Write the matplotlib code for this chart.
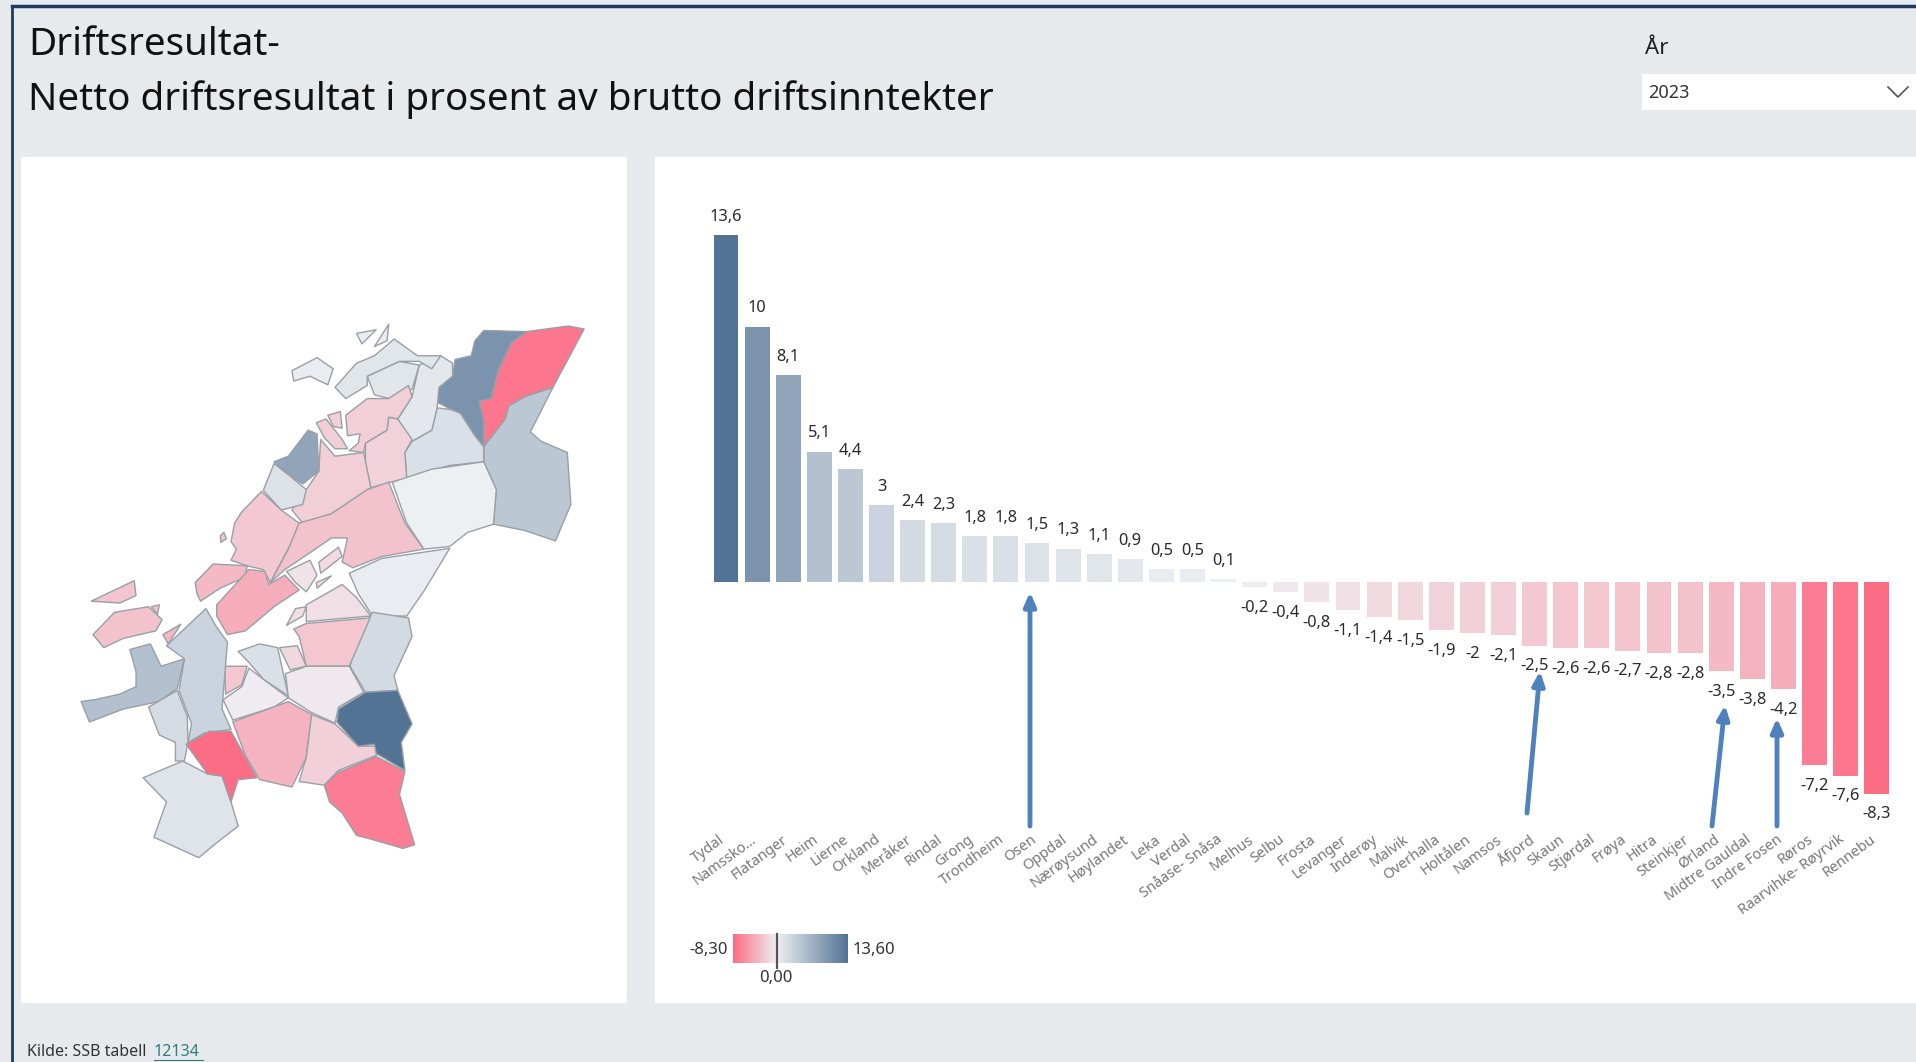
import numpy as np
import matplotlib
matplotlib.use("Agg")
import matplotlib.pyplot as plt
from matplotlib.colors import LinearSegmentedColormap, TwoSlopeNorm
from matplotlib.patches import Polygon, Rectangle
from matplotlib.transforms import ScaledTranslation

plt.rcParams['font.family'] = ['Noto Sans', 'DejaVu Sans']

W, H = 1916, 1062

kommuner = ['Tydal', 'Namssko...', 'Flatanger', 'Heim', 'Lierne', 'Orkland', 'Meråker', 'Rindal',
            'Grong', 'Trondheim', 'Osen', 'Oppdal', 'Nærøysund', 'Høylandet', 'Leka', 'Verdal',
            'Snåase- Snåsa', 'Melhus', 'Selbu', 'Frosta', 'Levanger', 'Inderøy', 'Malvik',
            'Overhalla', 'Holtålen', 'Namsos', 'Åfjord', 'Skaun', 'Stjørdal', 'Frøya', 'Hitra',
            'Steinkjer', 'Ørland', 'Midtre Gauldal', 'Indre Fosen', 'Røros',
            'Raarvihke- Røyrvik', 'Rennebu']
verdier = [13.6, 10, 8.1, 5.1, 4.4, 3, 2.4, 2.3, 1.8, 1.8, 1.5, 1.3, 1.1, 0.9, 0.5, 0.5, 0.1,
           -0.2, -0.4, -0.8, -1.1, -1.4, -1.5, -1.9, -2, -2.1, -2.5, -2.6, -2.6, -2.7, -2.8,
           -2.8, -3.5, -3.8, -4.2, -7.2, -7.6, -8.3]

# omriss av kommunene, lest av kartet
kart = {
    'Raarvihke- Røyrvik': [[(1305,85),(1420,70),(1465,78),(1378,235),(1300,260),(1255,285),(1245,320),(1185,395),(1185,325),(1172,272),(1205,265),(1225,190),(1262,115)]],
    'Namssko...': [[(1185,82),(1305,85),(1262,115),(1225,190),(1205,265),(1172,272),(1185,325),(1185,395),(1160,365),(1120,305),(1095,295),(1055,275),(1060,235),(1098,205),(1105,160),(1150,150),(1160,110)]],
    'Lierne': [[(1378,235),(1315,355),(1345,380),(1418,410),(1428,550),(1385,648),(1300,620),(1212,603),(1220,510),(1185,435),(1185,395),(1245,320),(1255,285),(1300,260)]],
    'Grong': [[(1055,290),(1095,295),(1120,305),(1160,365),(1185,395),(1185,435),(1090,445),(1030,460),(970,480),(965,410),(985,380),(1040,350)]],
    'Høylandet': [[(1005,175),(1065,150),(1098,170),(1098,205),(1060,235),(1055,290),(1040,350),(985,380),(945,320),(985,260)]],
    'Nærøysund': [[(860,205),(950,165),(1005,175),(985,240),(920,265),(880,255)],
                  [(770,235),(830,170),(880,150),(935,105),(1000,150),(1065,150),(1040,185),(1005,165),(950,165),(860,205),(860,230),(800,265)]],
    'Leka': [[(650,190),(720,155),(765,185),(750,228),(700,205),(655,218)],
             [(830,90),(885,80),(845,118)], [(880,125),(920,65),(915,110)]],
    'Overhalla': [[(855,385),(915,350),(920,315),(945,320),(985,375),(965,410),(970,480),(925,490),(870,505),(855,440)]],
    'Namsos': [[(800,310),(860,265),(920,265),(975,230),(985,260),(945,320),(920,315),(915,350),(855,385),(850,410),(810,405),(835,385),(840,360),(805,365)],
               [(730,375),(770,420),(850,410),(870,505),(760,575),(680,600),(650,565),(690,510),(725,460)],
               [(718,330),(745,320),(790,375),(805,400),(770,400),(740,370)],
               [(750,310),(785,300),(790,345),(765,340)]],
    'Flatanger': [[(600,435),(640,420),(695,350),(720,360),(725,460),(680,495),(640,470)]],
    'Osen': [[(570,512),(600,440),(640,470),(690,510),(680,550),(620,565)]],
    'Åfjord': [[(565,515),(620,565),(670,600),(650,650),(590,760),(570,725),(525,715),(480,700),(495,670),(480,650),(490,600),(510,570)],
               [(450,635),(460,625),(467,642),(452,652)]],
    'Steinkjer': [[(920,490),(965,600),(1018,670),(900,690),(820,720),(790,705),(805,640),(760,640),(700,680),(630,725),(590,760),(640,670),(670,600),(760,575),(860,510)]],
    'Snåase- Snåsa': [[(930,490),(1040,455),(1185,435),(1220,510),(1212,603),(1140,625),(1090,663),(1018,670),(970,600)]],
    'Verdal': [[(810,735),(900,695),(1090,668),(1020,780),(970,850),(875,850),(835,790)]],
    'Meråker': [[(875,840),(975,855),(985,905),(935,1010),(945,1050),(855,1055),(812,985),(835,905)]],
    'Levanger': [[(690,820),(790,765),(830,800),(870,850),(690,865)], [(635,875),(660,830),(690,825),(680,850)]],
    'Stjørdal': [[(655,885),(690,870),(868,855),(810,985),(690,985),(670,905)]],
    'Malvik': [[(615,935),(665,930),(690,985),(645,995)]],
    'Trondheim': [[(500,945),(560,925),(610,935),(640,1065),(570,1020),(530,975)]],
    'Selbu': [[(632,1005),(690,985),(810,985),(850,1055),(780,1095),(770,1138),(705,1110),(640,1070)]],
    'Skaun': [[(462,985),(525,985),(510,1035),(465,1060)]],
    'Melhus': [[(530,990),(570,1020),(640,1070),(600,1095),(485,1130),(458,1075),(510,1040)]],
    'Orkland': [[(300,930),(410,830),(440,880),(470,920),(455,1100),(480,1155),(405,1165),(360,1190),(370,1140),(335,1050),(350,965)]],
    'Heim': [[(62,1080),(100,1075),(170,1060),(215,1040),(215,1000),(198,940),(255,925),(285,985),(350,965),(330,1045),(280,1080),(180,1100),(85,1135)]],
    'Rindal': [[(250,1095),(330,1050),(358,1120),(360,1190),(350,1240),(325,1240),(325,1190),(280,1170)]],
    'Oppdal': [[(235,1285),(345,1240),(415,1275),(455,1280),(480,1350),(500,1415),(440,1460),(390,1500),(265,1445),(300,1350)]],
    'Rennebu': [[(355,1195),(420,1160),(480,1160),(552,1285),(500,1290),(480,1350),(455,1280),(415,1275)]],
    'Midtre Gauldal': [[(485,1135),(640,1080),(705,1115),(690,1230),(650,1310),(560,1290),(520,1225)]],
    'Holtålen': [[(705,1115),(770,1140),(835,1200),(888,1200),(885,1225),(780,1265),(740,1305),(670,1295),(690,1230)]],
    'Tydal': [[(855,1055),(945,1050),(985,1140),(955,1190),(965,1265),(885,1220),(880,1195),(835,1200),(775,1135),(780,1100)]],
    'Røros': [[(885,1228),(965,1268),(950,1330),(992,1465),(960,1475),(870,1450),(830,1440),(790,1380),(755,1350),(740,1305),(780,1270)]],
    'Ørland': [[(380,760),(430,710),(525,715),(520,745),(450,775),(395,810),(385,790)],
               [(290,900),(340,872),(305,925)]],
    'Indre Fosen': [[(440,820),(530,725),(575,730),(585,765),(630,740),(670,780),(600,825),(520,890),(470,900),(440,850)]],
    'Frosta': [[(635,730),(700,700),(720,740),(690,785),(660,760)]],
    'Inderøy': [[(725,705),(780,665),(790,690),(730,735)], [(718,760),(760,742),(720,775)]],
    'Frøya': [[(90,810),(210,755),(215,795),(170,815)]],
    'Hitra': [[(95,900),(155,840),(250,825),(288,860),(270,890),(180,910),(125,935)],
              [(258,825),(280,820),(275,845)]],
}

farger = LinearSegmentedColormap.from_list('drift', ['#FD6C85', '#EEF0F3', '#537394'])
norm = TwoSlopeNorm(vmin=-8.3, vcenter=0, vmax=13.6)
verdi_for = dict(zip(kommuner, verdier))

fig = plt.figure(figsize=(W / 100, H / 100), dpi=100, facecolor='#E7EAED')


def px_axes(x0, y0, x1, y1, **kw):
    return fig.add_axes([x0 / W, 1 - y1 / H, (x1 - x0) / W, (y1 - y0) / H], **kw)


# bakgrunn og tekst i pikselkoordinater
bg = px_axes(0, 0, W, H)
bg.set_xlim(0, W)
bg.set_ylim(H, 0)
bg.axis('off')
bg.add_patch(Rectangle((21, 157), 606, 846, fc='white', ec='none'))
bg.add_patch(Rectangle((655, 157), 1261, 846, fc='white', ec='none'))
bg.add_patch(Rectangle((1642, 74), 274, 36, fc='white', ec='none'))
bg.plot([12, W], [6, 6], color='#1F3864', lw=2.5)
bg.plot([12, 12], [6, H], color='#1F3864', lw=2)
bg.plot([1888, 1898, 1908], [87, 97, 87], color='#555555', lw=1.2)
bg.text(28, 45, 'Driftsresultat-', fontsize=27.8, va='center', color='#111111')
bg.text(28, 100, 'Netto driftsresultat i prosent av brutto driftsinntekter', fontsize=27.8, va='center', color='#111111')
bg.text(1645, 49, 'År', fontsize=16, va='center', color='#222222')
bg.text(1648, 93, '2023', fontsize=13, va='center', color='#333333')
bg.text(27, 1052, 'Kilde: SSB tabell ', fontsize=11.5, va='center', color='#333333')
bg.text(154, 1052, '12134', fontsize=11.5, va='center', color='#2E7D7D')
bg.plot([154, 203], [1060, 1060], color='#2E7D7D', lw=0.8)

# kart
ax_map = px_axes(60, 300, 620, 880)
ax_map.set_xlim(3, 1565)
ax_map.set_ylim(1560, 0)
ax_map.axis('off')
for navn, deler in kart.items():
    for del_ in deler:
        ax_map.add_patch(Polygon(del_, closed=True, fc=farger(norm(verdi_for[navn])),
                                 ec='#9A9FA6', lw=1.0, joinstyle='round'))

# stolper
ax = px_axes(654, 156, W, 1003)
ax.patch.set_alpha(0)
x = np.arange(len(verdier))
ax.set_xlim((654 - 726) / 31.1, (W - 726) / 31.1)
ax.set_ylim(-(1003 - 581.7) / 25.52, (581.7 - 156) / 25.52)
ax.bar(x, verdier, width=0.8, color=[farger(norm(v)) for v in verdier])
for i, v in enumerate(verdier):
    tekst = f'{v:g}'.replace('.', ',')
    ax.annotate(tekst, (i, v), xytext=(0, 13 if v > 0 else -15), textcoords='offset points',
                ha='center', va='center', fontsize=11.8, color='#2A2A2A')
for s in ['top', 'left', 'right']:
    ax.spines[s].set_visible(False)
ax.spines['bottom'].set_position(('data', -9.7))
ax.spines['bottom'].set_color('none')
ax.set_yticks([])
ax.set_xticks(x, kommuner, rotation=36, ha='right', rotation_mode='anchor', fontsize=10.5, color='#777777')
ax.tick_params(axis='x', length=0, pad=2)
flytt = ScaledTranslation(-7 / 100, 0, fig.dpi_scale_trans)
for lab in ax.get_xticklabels():
    lab.set_transform(lab.get_transform() + flytt)

# piler
piler = [((1030, 826), (1030, 592)), ((1527, 813), (1540, 671)),
         ((1712, 826), (1725, 705)), ((1777, 826), (1777, 718))]
for start, slutt in piler:
    bg.annotate('', xy=slutt, xytext=start, zorder=5,
                arrowprops=dict(arrowstyle='-|>,head_width=0.35,head_length=0.8', color='#4F81BD',
                                lw=3.5, shrinkA=0, shrinkB=0))

# fargeforklaring
ax_leg = px_axes(733, 934, 848, 963)
grad = np.linspace(-8.3, 13.6, 300).reshape(1, -1)
ax_leg.imshow(grad, cmap=farger, norm=norm, aspect='auto', extent=[-8.3, 13.6, 0, 1])
ax_leg.axis('off')
ax_leg.plot([0, 0], [-0.17, 1], color='#555555', lw=1.6, clip_on=False)
ax_leg.set_ylim(0, 1)
bg.text(728, 950, '-8,30', ha='right', va='center', fontsize=12, color='#333333')
bg.text(853, 950, '13,60', ha='left', va='center', fontsize=12, color='#333333')
bg.text(776, 978, '0,00', ha='center', va='center', fontsize=12, color='#333333')

fig.savefig('out.png', dpi=100, facecolor=fig.get_facecolor())
